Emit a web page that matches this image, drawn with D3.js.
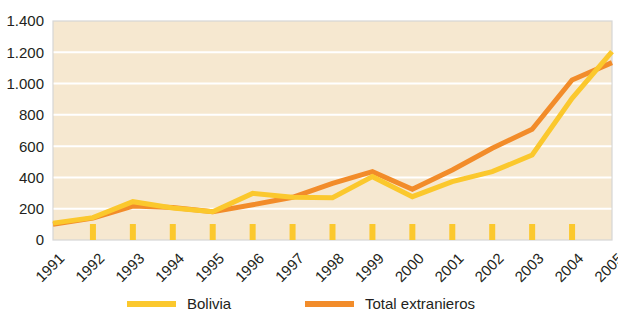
<!DOCTYPE html>
<meta charset="utf-8">
<style>
    body { margin: 0; background: #fff; }
    text { font-family: "Liberation Sans", Arial, sans-serif; fill: #231f20; }
</style>
<script src="https://d3js.org/d3.v7.min.js"></script>
<svg width="618" height="311"></svg>
<script>
    let years = ["1991","1992","1993","1994","1995","1996","1997","1998","1999","2000","2001","2002","2003","2004","2005"];
    let bolivia = [108, 143, 245, 205, 181, 298, 273, 270, 405, 277, 373, 437, 543, 906, 1204];
    let totalExt = [100, 140, 217, 208, 180, 225, 273, 362, 437, 324, 448, 586, 708, 1023, 1134];
    let yTicks = [0, 200, 400, 600, 800, 1000, 1200, 1400];
    let legendNames = ["Bolivia", "Total extranieros"];
    let colors = ["#fbc82d", "#f28c2a"];

    let svg = d3.select("svg");
    let margin = {left: 53, right: 6, top: 21, bottom: 71};
    let width = 618 - margin.left - margin.right;
    let height = 311 - margin.top - margin.bottom;

    let x = d3.scalePoint().domain(years).range([0, width]);
    let y = d3.scaleLinear().domain([0, 1400]).range([height, 0]);
    let fmt = d3.format(",d");
    let label = function(d) { return fmt(d).replace(/,/g, "."); };

    let g = svg.append("g").attr("transform", "translate(" + margin.left + "," + margin.top + ")");

    g.append("rect")
        .attr("width", width).attr("height", height)
        .attr("fill", "#f6e8d0")
        .attr("stroke", "#d6d6d6").attr("stroke-width", 1.2);

    g.selectAll(".grid").data(yTicks.slice(1, -1)).enter().append("line")
        .attr("x1", 0.6).attr("x2", width - 0.6)
        .attr("y1", function(d) { return y(d); }).attr("y2", function(d) { return y(d); })
        .attr("stroke", "#fff").attr("stroke-width", 2);

    // small yellow tick marks at the bottom
    g.selectAll(".tk").data(years.slice(1, -1)).enter().append("rect")
        .attr("x", function(d) { return x(d) - 3; })
        .attr("y", height - 16)
        .attr("width", 6).attr("height", 16)
        .attr("fill", colors[0]);

    let line = d3.line()
        .x(function(d, i) { return x(years[i]); })
        .y(function(d) { return y(d); });

    g.append("path").datum(totalExt)
        .attr("d", line).attr("fill", "none")
        .attr("stroke", colors[1]).attr("stroke-width", 5);
    g.append("path").datum(bolivia)
        .attr("d", line).attr("fill", "none")
        .attr("stroke", colors[0]).attr("stroke-width", 5);

    g.selectAll(".yl").data(yTicks).enter().append("text")
        .attr("x", -9).attr("y", function(d) { return y(d); })
        .attr("dy", "0.36em")
        .attr("text-anchor", "end")
        .style("font-size", "15px")
        .text(label);

    g.selectAll(".xl").data(years).enter().append("text")
        .attr("transform", function(d) { return "translate(" + (x(d) + 5) + "," + (height + 12) + ") rotate(-45)"; })
        .attr("text-anchor", "end")
        .attr("dy", "0.7em")
        .style("font-size", "15px")
        .text(function(d) { return d; });

    let leg = svg.append("g").attr("transform", "translate(127,304)");
    let items = leg.selectAll("g").data(legendNames).enter().append("g")
        .attr("transform", function(d, i) { return "translate(" + (i * 178) + ",0)"; });
    items.append("line")
        .attr("x1", 0).attr("x2", 49)
        .attr("stroke", function(d, i) { return colors[i]; })
        .attr("stroke-width", 6);
    items.append("text")
        .attr("x", 60).attr("dy", "0.36em")
        .style("font-size", "15px")
        .text(function(d) { return d; });
</script>
